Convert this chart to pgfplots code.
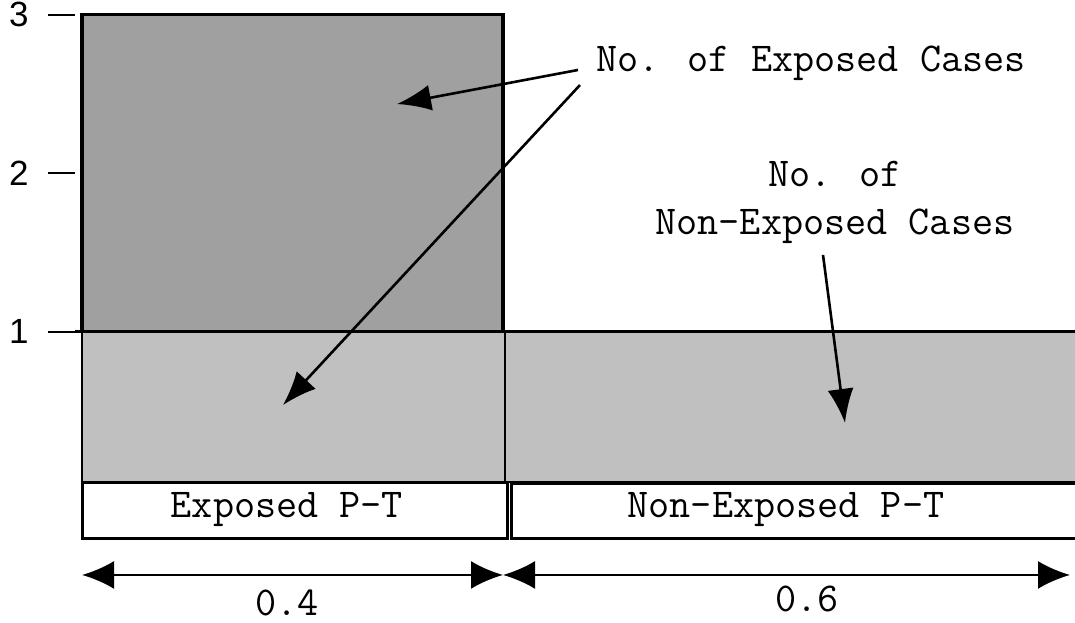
\documentclass[border=0pt]{standalone}
\usepackage{pgfplots}
\pgfplotsset{compat=1.18}
\usepackage{fontspec}
\setmainfont{Liberation Sans}
\newcommand\mono{\ttfamily}
\usetikzlibrary{arrows.meta}
\begin{document}
\begin{tikzpicture}
\path (-37.5pt,0pt) rectangle (500pt,311pt);
\begin{axis}[
  scale only axis, width=500pt, height=311pt,
  xmin=75, xmax=1075, ymin=-0.8328, ymax=3.0915,
  axis x line=none, axis y line*=left,
  y axis line style={draw=none},
  ytick={1,2,3}, tick align=outside, major tick length=13.5pt,
  every tick/.style={black, line width=1pt},
  yticklabel style={font=\fontsize{17.5}{20}\selectfont, inner sep=0pt, xshift=-9.5pt},
  /pgf/number format/assume math mode=true,
]
% light gray boxes
\addplot[fill={rgb,255:red,192;green,192;blue,192}, draw=black, line width=1.3pt] coordinates {(82,0.0505) (505,0.0505) (505,1) (82,1)} -- cycle;
\addplot[fill={rgb,255:red,192;green,192;blue,192}, draw=black, line width=1.3pt] coordinates {(505,0.0505) (1085,0.0505) (1085,1) (505,1)} -- cycle;
% dark gray box
\addplot[fill={rgb,255:red,160;green,160;blue,160}, draw=black, line width=1.6pt] coordinates {(82,1) (503,1) (503,3) (82,3)} -- cycle;
% tick at 1 extends
\addplot[black, line width=1.2pt] coordinates {(55,1) (82,1)};
% white boxes
\addplot[fill=white, draw=black, line width=1.5pt] coordinates {(82,-0.303) (507,-0.303) (507,0.0505) (82,0.0505)} -- cycle;
\addplot[fill=white, draw=black, line width=1.5pt] coordinates {(511,-0.303) (1085,-0.303) (1085,0.038) (511,0.038)} -- cycle;
% double arrows
\addplot[black, line width=1.2pt, {Latex[length=16pt,width=14pt]}-{Latex[length=16pt,width=14pt]}] coordinates {(82,-0.536) (503,-0.536)};
\addplot[black, line width=1.2pt, {Latex[length=16pt,width=14pt]}-{Latex[length=16pt,width=14pt]}] coordinates {(503,-0.536) (1070,-0.536)};
% pointer arrows
\addplot[black, line width=1.3pt, -{Latex[length=17pt,width=13pt]}] coordinates {(578,2.650) (397,2.435)};
\addplot[black, line width=1.3pt, -{Latex[length=17pt,width=13pt]}] coordinates {(580,2.555) (283,0.536)};
\addplot[black, line width=1.3pt, -{Latex[length=17pt,width=13pt]}] coordinates {(823,1.483) (845,0.423)};
% texts
\node[font=\mono\fontsize{20.5}{22}\selectfont] at (axis cs:811,2.694) {No. of Exposed Cases};
\node[font=\mono\fontsize{20.5}{22}\selectfont, align=center] at (axis cs:835,1.814) {No. of\\[2pt]Non-Exposed Cases};
\node[font=\mono\fontsize{20.5}{22}\selectfont] at (axis cs:287,-0.126) {Exposed P-T};
\node[font=\mono\fontsize{20.5}{22}\selectfont] at (axis cs:786,-0.126) {Non-Exposed P-T};
\node[font=\mono\fontsize{20.5}{22}\selectfont] at (axis cs:287,-0.715) {0.4};
\node[font=\mono\fontsize{20.5}{22}\selectfont] at (axis cs:807,-0.685) {0.6};
\end{axis}
\end{tikzpicture}
\end{document}
